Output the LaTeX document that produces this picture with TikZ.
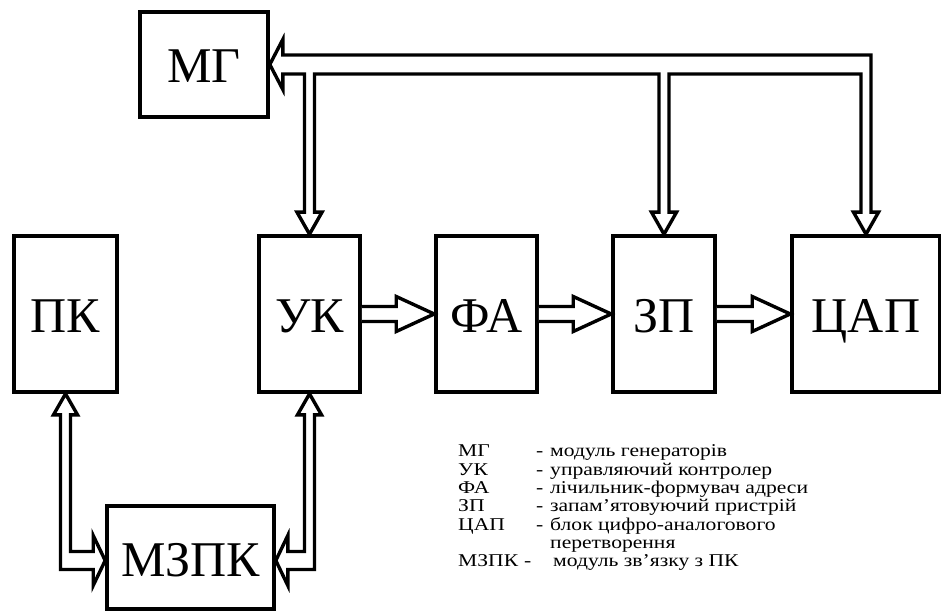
\documentclass[tikz,border=0pt]{standalone}
\usepackage{fontspec}
\setmainfont{Liberation Serif}
\newfontfamily\legfont[FakeStretch=1.2]{Liberation Serif}
\usetikzlibrary{calc}
\tikzset{
  box/.style={draw=black, line width=3.6pt, inner sep=0pt, rectangle,
    font=\fontsize{50}{60}\selectfont, text height=37pt, text depth=0pt},
  busline/.style={draw=black, line width=3.4pt, line join=miter, fill=white},
  legend/.style={anchor=base west, inner sep=0pt, font=\legfont\fontsize{18}{21}\selectfont}
}
\newcommand\rarrow[2]{%
  \draw[busline] ($(#1.east)+(0,-7.5)$) -- ($(#2.west)+(-38,-7.5)$) -- ($(#2.west)+(-38,-17.5)$) -- (#2.west) -- ($(#2.west)+(-38,17.5)$) -- ($(#2.west)+(-38,7.5)$) -- ($(#1.east)+(0,7.5)$);}
\begin{document}
\begin{tikzpicture}[x=1pt,y=-1pt]
\useasboundingbox (0,0) rectangle (941,612);
% boxes
\node[box, minimum width=128pt, minimum height=105pt] (mg) at (204,64.5) {МГ};
\node[box, minimum width=103pt, minimum height=156pt] (pk) at (65.5,314) {ПК};
\node[box, minimum width=101pt, minimum height=156pt] (uk) at (309.5,314) {УК};
\node[box, minimum width=101pt, minimum height=156pt] (fa) at (486.5,314) {ФА};
\node[box, minimum width=102pt, minimum height=156pt] (zp) at (664,314) {ЗП};
\node[box, minimum width=148pt, minimum height=156pt] (dac) at (866,314) {ЦАП};
\node[box, minimum width=167pt, minimum height=103pt] (mzpk) at (190.5,557.5) {МЗПК};
% horizontal data arrows
\rarrow{uk}{fa}
\rarrow{fa}{zp}
\rarrow{zp}{dac}
% top bus from/to MG
\coordinate (bU) at (uk.north |- mg.east);
\coordinate (bZ) at (zp.north |- mg.east);
\coordinate (bD) at (dac.north |- mg.east);
\draw[busline] (mg.east) -- ($(mg.east)+(13,-25)$) -- ($(mg.east)+(13,-9.5)$)
  -- ($(bD)+(5,-9.5)$) -- ($(dac.north)+(5,-22)$) -- ($(dac.north)+(12.5,-22)$) -- (dac.north)
  -- ($(dac.north)+(-12.5,-22)$) -- ($(dac.north)+(-5,-22)$) -- ($(bD)+(-5,9.5)$)
  -- ($(bZ)+(5,9.5)$) -- ($(zp.north)+(5,-22)$) -- ($(zp.north)+(12.5,-22)$) -- (zp.north)
  -- ($(zp.north)+(-12.5,-22)$) -- ($(zp.north)+(-5,-22)$) -- ($(bZ)+(-5,9.5)$)
  -- ($(bU)+(5,9.5)$) -- ($(uk.north)+(5,-22)$) -- ($(uk.north)+(12.5,-22)$) -- (uk.north)
  -- ($(uk.north)+(-12.5,-22)$) -- ($(uk.north)+(-5,-22)$) -- ($(bU)+(-5,9.5)$)
  -- ($(mg.east)+(13,9.5)$) -- ($(mg.east)+(13,25)$) -- cycle;
% PK <-> MZPK
\coordinate (mL) at ($(mzpk.west)+(0,3)$);
\coordinate (cL) at (pk.south |- mL);
\draw[busline] (pk.south) -- ($(pk.south)+(12,21)$) -- ($(pk.south)+(5,21)$)
  -- ($(cL)+(5,-9)$) -- ($(mL)+(-12,-9)$) -- ($(mL)+(-12,-25)$) -- (mL)
  -- ($(mL)+(-12,25)$) -- ($(mL)+(-12,9)$) -- ($(cL)+(-5,9)$)
  -- ($(pk.south)+(-5,21)$) -- ($(pk.south)+(-12,21)$) -- cycle;
% UK <-> MZPK
\coordinate (mR) at ($(mzpk.east)+(0,3)$);
\coordinate (cR) at (uk.south |- mR);
\draw[busline] (uk.south) -- ($(uk.south)+(12,21)$) -- ($(uk.south)+(5,21)$)
  -- ($(cR)+(5,9)$) -- ($(mR)+(12,9)$) -- ($(mR)+(12,25)$) -- (mR)
  -- ($(mR)+(12,-25)$) -- ($(mR)+(12,-9)$) -- ($(cR)+(-5,-9)$)
  -- ($(uk.south)+(-5,21)$) -- ($(uk.south)+(-12,21)$) -- cycle;
% legend
\node[legend] (l1a) at (458,456.7) {МГ};
\node[legend] (l1d) at (536,456.7) {-};
\node[legend] (l1t) at (550,456.7) {модуль генераторів};
\node[legend] (l2a) at (458,475) {УК};
\node[legend] (l2d) at (536,475) {-};
\node[legend] (l2t) at (550,475) {управляючий контролер};
\node[legend] (l3a) at (458,493.4) {ФА};
\node[legend] (l3d) at (536,493.4) {-};
\node[legend] (l3t) at (550,493.4) {лічильник-формувач адреси};
\node[legend] (l4a) at (458,511.7) {ЗП};
\node[legend] (l4d) at (536,511.7) {-};
\node[legend] (l4t) at (550,511.7) {запам’ятовуючий пристрій};
\node[legend] (l5a) at (458,530) {ЦАП};
\node[legend] (l5d) at (536,530) {-};
\node[legend] (l5t) at (550,530) {блок цифро-аналогового};
\node[legend] (l6t) at (550,548.4) {перетворення};
\node[legend] (l7a) at (458,566.7) {МЗПК};
\node[legend] (l7d) at (524,566.7) {-};
\node[legend] (l7t) at (553,566.7) {модуль зв’язку з ПК};
\end{tikzpicture}
\end{document}
